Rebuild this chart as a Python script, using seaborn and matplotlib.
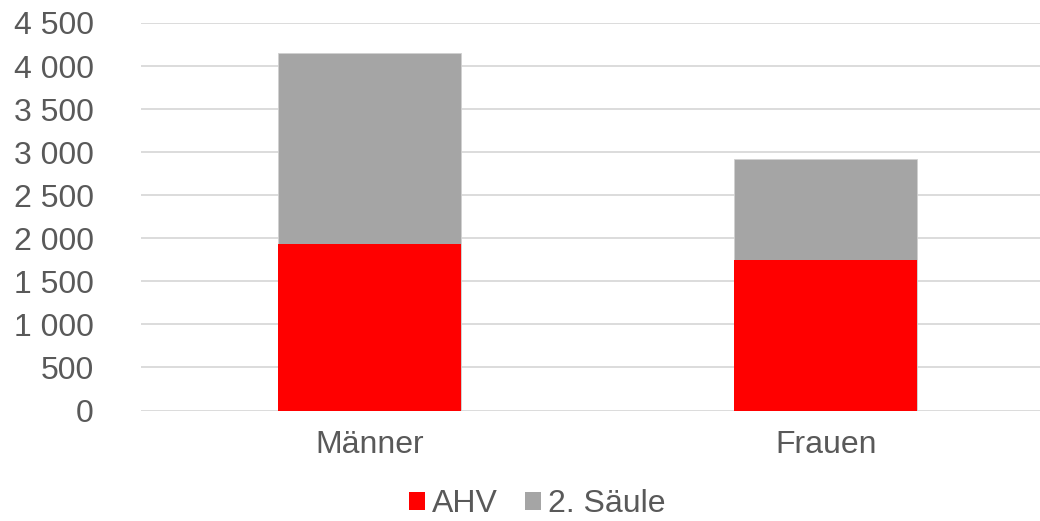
import matplotlib
matplotlib.use("Agg")
import matplotlib.pyplot as plt
from matplotlib.patches import Patch
from matplotlib.ticker import FuncFormatter
import seaborn as sns
import pandas as pd

categories = ["Männer", "Frauen"]
ahv = [1935, 1753]
saeule2 = [2215, 1162]
series_names = ["AHV", "2. Säule"]
yticks = [0, 500, 1000, 1500, 2000, 2500, 3000, 3500, 4000, 4500]

RED = "#ff0000"
GRAY = "#a5a5a5"
TEXT = "#595959"
GRID = "#d9d9d9"

sns.set_theme(style="white")
plt.rcParams["font.family"] = ["Liberation Sans", "DejaVu Sans"]

totals = [a + b for a, b in zip(ahv, saeule2)]
df = pd.DataFrame({"cat": categories, "ahv": ahv, "total": totals})

fig = plt.figure(figsize=(10.4, 5.21), dpi=100)
ax = fig.add_axes([141 / 1040, (521 - 410.5) / 521, (1054 - 141) / 1040, (410.5 - 23) / 521])

sns.barplot(data=df, x="cat", y="total", color=GRAY, width=0.4, ax=ax,
            saturation=1, edgecolor="#d0d0d0", linewidth=0.6, zorder=3)
sns.barplot(data=df, x="cat", y="ahv", color=RED, width=0.4, ax=ax,
            saturation=1, edgecolor="none", linewidth=0, zorder=4)

ax.set_ylim(0, 4500)
ax.set_yticks(yticks)
ax.yaxis.set_major_formatter(FuncFormatter(lambda v, p: f"{int(v):,}".replace(",", " ")))
ax.set_xlim(-0.5, 1.5)
ax.grid(axis="y", color=GRID, linewidth=1.3, zorder=0)
ax.set_axisbelow(True)
for s in ax.spines.values():
    s.set_visible(False)
ax.set_xlabel("")
ax.set_ylabel("")
ax.tick_params(axis="y", length=0, pad=34, labelsize=23, labelcolor=TEXT)
ax.tick_params(axis="x", length=0, pad=14, labelsize=23, labelcolor=TEXT)

handles = [Patch(facecolor=RED, edgecolor="none"), Patch(facecolor=GRAY, edgecolor="none")]
fig.legend(handles, series_names, loc="lower center", bbox_to_anchor=(537 / 1040, -0.04),
           ncol=2, frameon=False, fontsize=23, labelcolor=TEXT,
           handlelength=0.5, handleheight=0.5, handletextpad=0.22, columnspacing=0.85,
           borderpad=0.2)

fig.savefig("out.png", dpi=100)
